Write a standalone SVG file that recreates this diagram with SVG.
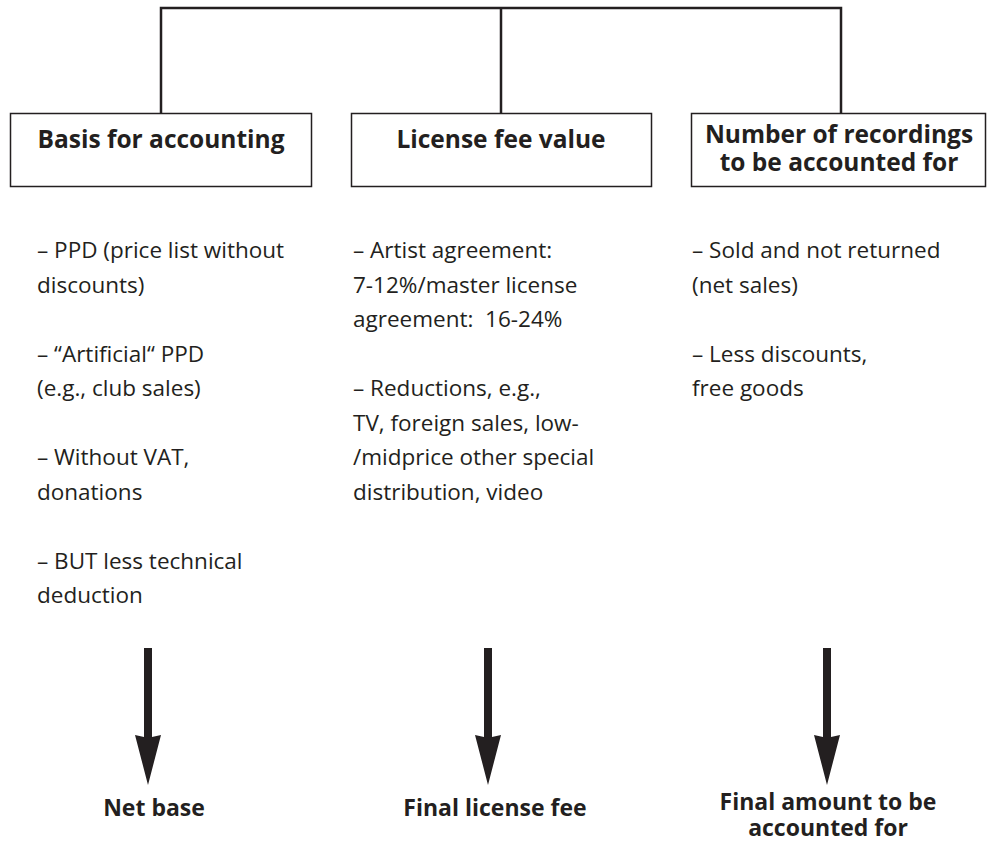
<svg xmlns="http://www.w3.org/2000/svg" width="987" height="842" viewBox="0 0 987 842">
<style>
.box{fill:#fff;stroke:#231f20;stroke-width:1.5}
.br{fill:none;stroke:#231f20;stroke-width:2.5}
.h{font-family:"Open Sans","Noto Sans",sans-serif;font-weight:bold;font-size:24.5px;fill:#231f20;text-anchor:middle}
.r{font-family:"Open Sans","Noto Sans",sans-serif;font-weight:bold;font-size:23px;fill:#231f20;text-anchor:middle}
.t{font-family:"Open Sans","Noto Sans",sans-serif;font-size:22.5px;fill:#231f20}
.arr{fill:#231f20}
</style>
<rect width="987" height="842" fill="#fff"/>
<g id="connectors">
<path class="br" d="M161 113V8H841V113M501 8V113"/>
<path id="arrow1" class="arr" d="M144 648H152V737L161 735L148 785L135 735L144 737Z"/>
<path id="arrow2" class="arr" d="M484 648H492V737L501 735L488 785L475 735L484 737Z"/>
<path id="arrow3" class="arr" d="M823 648H831V737L840 735L827 785L814 735L823 737Z"/>
</g>
<g id="box-basis">
<rect class="box" x="10.5" y="113.5" width="301" height="73"/>
<text class="h" x="161" y="148">Basis for accounting</text>
</g>
<g id="box-license">
<rect class="box" x="351.5" y="113.5" width="300" height="73"/>
<text class="h" x="501" y="148">License fee value</text>
</g>
<g id="box-number">
<rect class="box" x="691.5" y="113.5" width="294" height="73"/>
<text class="h" x="839" y="143">Number of recordings</text>
<text class="h" x="839" y="171">to be accounted for</text>
</g>
<g id="list-basis" class="t">
<text x="37" y="258">– PPD (price list without</text>
<text x="37" y="292.5">discounts)</text>
<text x="37" y="361.5">– “Artificial“ PPD</text>
<text x="37" y="396">(e.g., club sales)</text>
<text x="37" y="465">– Without VAT,</text>
<text x="37" y="499.5">donations</text>
<text x="37" y="568.5">– BUT less technical</text>
<text x="37" y="603">deduction</text>
</g>
<g id="list-license" class="t">
<text x="353" y="258">– Artist agreement:</text>
<text x="353" y="292.5">7-12%/master license</text>
<text x="353" y="327" xml:space="preserve">agreement:  16-24%</text>
<text x="353" y="396">– Reductions, e.g.,</text>
<text x="353" y="430.5">TV, foreign sales, low-</text>
<text x="353" y="465">/midprice other special</text>
<text x="353" y="499.5">distribution, video</text>
</g>
<g id="list-number" class="t">
<text x="692" y="258">– Sold and not returned</text>
<text x="692" y="292.5">(net sales)</text>
<text x="692" y="361.5">– Less discounts,</text>
<text x="692" y="396">free goods</text>
</g>
<g id="result-net">
<text class="r" x="154" y="816">Net base</text>
</g>
<g id="result-fee">
<text class="r" x="495" y="816">Final license fee</text>
</g>
<g id="result-amount">
<text class="r" x="828" y="810">Final amount to be</text>
<text class="r" x="828" y="836">accounted for</text>
</g>
</svg>
